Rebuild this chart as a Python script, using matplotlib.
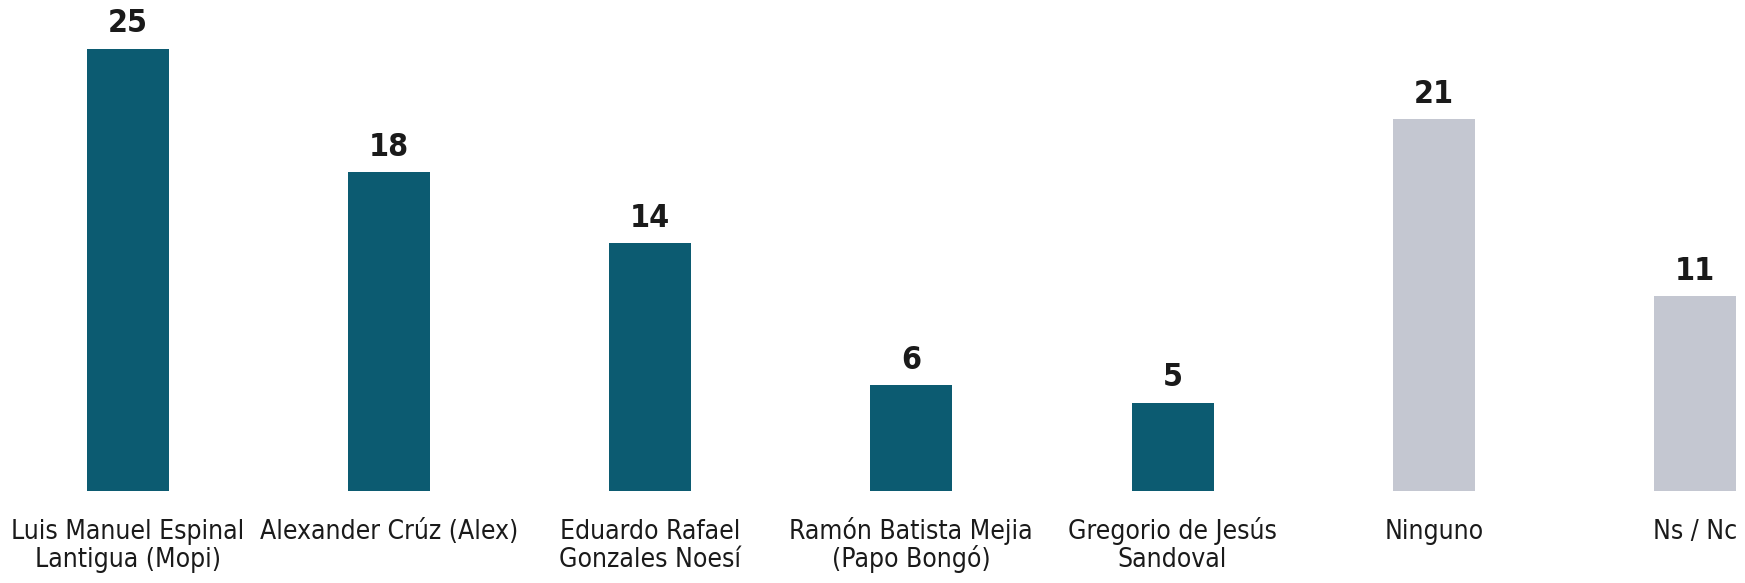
import matplotlib
matplotlib.use("Agg")
import matplotlib.pyplot as plt
from matplotlib import font_manager

categories = [
    "Luis Manuel Espinal\nLantigua (Mopi)",
    "Alexander Crúz (Alex)",
    "Eduardo Rafael\nGonzales Noesí",
    "Ramón Batista Mejia\n(Papo Bongó)",
    "Gregorio de Jesús\nSandoval",
    "Ninguno",
    "Ns / Nc",
]
values = [25, 18, 14, 6, 5, 21, 11]
is_candidate = [True, True, True, True, True, False, False]

TEAL = "#0c5b71"
GRAY = "#c4c7d1"

names = {f.name for f in font_manager.fontManager.ttflist}
family = "Liberation Sans Narrow" if "Liberation Sans Narrow" in names else "DejaVu Sans"
stretch = "normal" if family == "Liberation Sans Narrow" else "condensed"

W, H = 1745, 583
dpi = 100
fig = plt.figure(figsize=(W / dpi, H / dpi), dpi=dpi)
base_px = 491
px_per_unit = 17.7
ax = fig.add_axes([0, (H - base_px) / H, 1, base_px / H])

first_c, spacing = 127.5, 261.25
ax.set_xlim(-first_c / spacing, (W - first_c) / spacing)
ax.set_ylim(0, base_px / px_per_unit)

x = list(range(len(values)))
colors = [TEAL if c else GRAY for c in is_candidate]
ax.bar(x, values, width=82 / spacing, color=colors)

pt = 72 / dpi
for xi, v in zip(x, values):
    ax.annotate(str(v), (xi, v), xytext=(0, 16 * pt), textcoords="offset points",
                ha="center", va="baseline", fontsize=23, fontweight="bold",
                family=family, fontstretch=stretch, color="#1a1a1a")

for xi, lab in zip(x, categories):
    for k, line in enumerate(lab.split("\n")):
        ax.annotate(line, (xi, 0), xycoords=("data", "axes fraction"),
                    xytext=(0, -(48 + 28 * k) * pt), textcoords="offset points",
                    ha="center", va="baseline",
                    fontsize=19, family=family, fontstretch=stretch,
                    color="#1a1a1a")

ax.set_xticks([])
ax.set_yticks([])
for s in ax.spines.values():
    s.set_visible(False)

fig.savefig("out.png", dpi=dpi)
